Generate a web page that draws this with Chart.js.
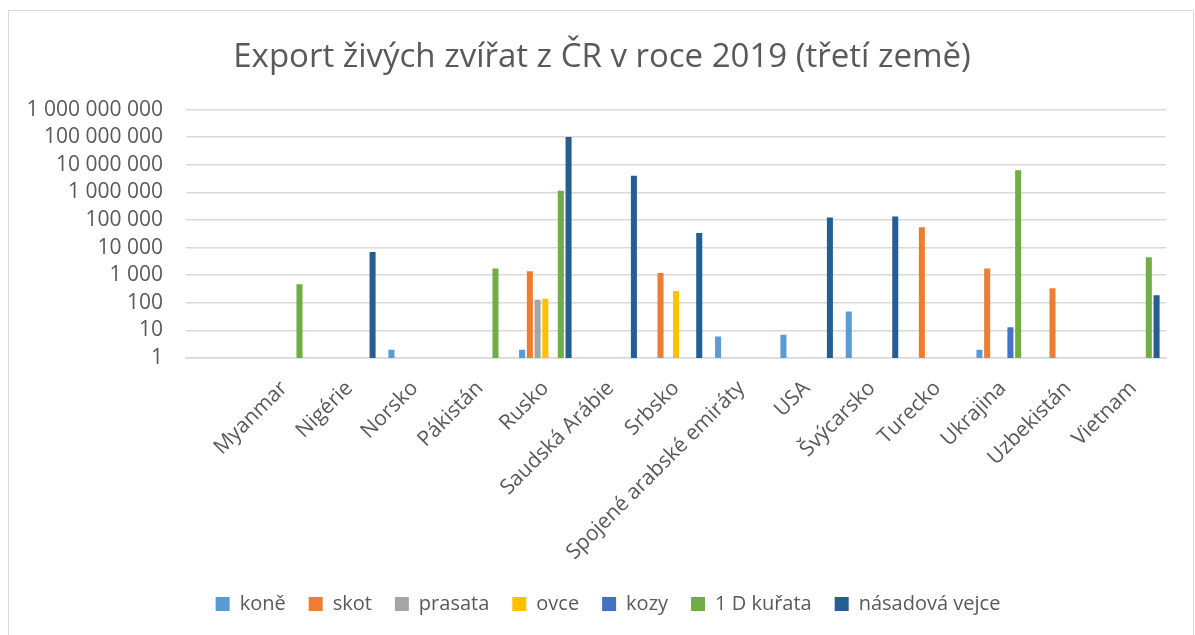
<!DOCTYPE html>
<html>
<head>
<meta charset="utf-8">
<title>Export živých zvířat z ČR v roce 2019</title>
<script src="https://cdn.jsdelivr.net/npm/chart.js"></script>
<style>
    html, body { margin: 0; padding: 0; background: #fff; }
    #wrap { position: relative; width: 1195px; height: 635px; overflow: hidden; }
    #frame { position: absolute; left: 8px; top: 10px; width: 1186px; height: 700px;
             border: 1px solid #d9d9d9; box-sizing: border-box; }
    #exportChart { position: absolute; left: 0; top: 0; }
</style>
</head>
<body>
<div id="wrap">
    <div id="frame"></div>
    <canvas id="exportChart" width="1195" height="635"></canvas>
</div>
<script>
// categories (first slot is an empty category in the source sheet)
const countries = ["", "Myanmar", "Nigérie", "Norsko", "Pákistán", "Rusko", "Saudská Arábie", "Srbsko",
    "Spojené arabské emiráty", "USA", "Švýcarsko", "Turecko", "Ukrajina", "Uzbekistán", "Vietnam"];

// series values (kusy), null = no export
const kone    = [null, null, null, 2, null, 2, null, null, 6, 7, 48, null, 2, null, null];
const skot    = [null, null, null, null, null, 1400, null, 1200, null, null, null, 55000, 1750, 340, null];
const prasata = [null, null, null, null, null, 128, null, null, null, null, null, null, null, null, null];
const ovce    = [null, null, null, null, null, 140, null, 270, null, null, null, null, null, null, null];
const kozy    = [null, null, null, null, null, null, null, null, null, null, null, null, 13, null, null];
const kurata  = [null, 470, null, null, 1750, 1150000, null, null, null, null, null, null, 6300000, null, 4500];
const vejce   = [null, null, 6900, null, null, 102000000, 4000000, 34000, null, 124000, 134000, null, null, null, 188];

// y axis ticks (log scale)
const yTicks = [1, 10, 100, 1000, 10000, 100000, 1000000, 10000000, 100000000, 1000000000];
const yTickLabels = ["1", "10", "100", "1 000", "10 000", "100 000", "1 000 000", "10 000 000",
    "100 000 000", "1 000 000 000"];

document.addEventListener("DOMContentLoaded", () => {
    const font = "'Open Sans', 'DejaVu Sans', sans-serif";
    const textColor = "#595959";
    const gridColor = "#d9d9d9";

    // 1. Datasets
    const series = [
        { label: "koně", data: kone, color: "#5B9BD5" },
        { label: "skot", data: skot, color: "#ED7D31" },
        { label: "prasata", data: prasata, color: "#A5A5A5" },
        { label: "ovce", data: ovce, color: "#FFC000" },
        { label: "kozy", data: kozy, color: "#4472C4" },
        { label: "1 D kuřata", data: kurata, color: "#70AD47" },
        { label: "násadová vejce", data: vejce, color: "#255E91" }
    ];

    // Excel centres title and legend on the whole frame, not on the plot box
    const shiftBlocks = {
        id: "shiftBlocks",
        afterLayout(chart) {
            if (chart.titleBlock) { chart.titleBlock.left += 14; chart.titleBlock.right += 14; }
            if (chart.legend) { chart.legend.left += 20; chart.legend.right += 20; }
        }
    };

    // 2. Chart
    const ctx = document.getElementById("exportChart").getContext("2d");
    new Chart(ctx, {
        type: "bar",
        data: {
            labels: countries,
            datasets: series.map(s => ({
                label: s.label,
                data: s.data,
                backgroundColor: s.color,
                borderWidth: 0,
                categoryPercentage: 0.83,
                barPercentage: 0.78
            }))
        },
        options: {
            responsive: false,
            animation: false,
            layout: { padding: { left: 10, right: 29, top: 0, bottom: 11 } },
            plugins: {
                title: {
                    display: true,
                    text: "Export živých zvířat z ČR v roce 2019 (třetí země)",
                    color: textColor,
                    font: { family: font, size: 33, weight: "normal" },
                    padding: { top: 38, bottom: 32 }
                },
                legend: {
                    position: "bottom",
                    labels: {
                        color: textColor,
                        boxWidth: 14,
                        boxHeight: 14,
                        padding: 23,
                        font: { family: font, size: 20 }
                    }
                },
                tooltip: { enabled: false }
            },
            scales: {
                x: {
                    grid: { display: false },
                    border: { color: gridColor, width: 1.5 },
                    ticks: {
                        color: textColor,
                        font: { family: font, size: 21 },
                        minRotation: 45,
                        maxRotation: 45,
                        autoSkip: false,
                        padding: 10
                    },
                    afterFit: scale => { scale.height = 213; }
                },
                y: {
                    type: "logarithmic",
                    min: 1,
                    max: 1000000000,
                    border: { display: false },
                    grid: { color: gridColor, lineWidth: 1.5, drawTicks: false },
                    ticks: {
                        color: textColor,
                        font: { family: font, size: 21 },
                        padding: 23,
                        autoSkip: false,
                        callback: value => {
                            const i = yTicks.indexOf(value);
                            return i >= 0 ? yTickLabels[i] : "";
                        }
                    },
                    afterBuildTicks: scale => {
                        scale.ticks = yTicks.map(v => ({ value: v }));
                    },
                    afterFit: scale => { scale.width = 176; }
                }
            }
        },
        plugins: [shiftBlocks]
    });
});
</script>
</body>
</html>
